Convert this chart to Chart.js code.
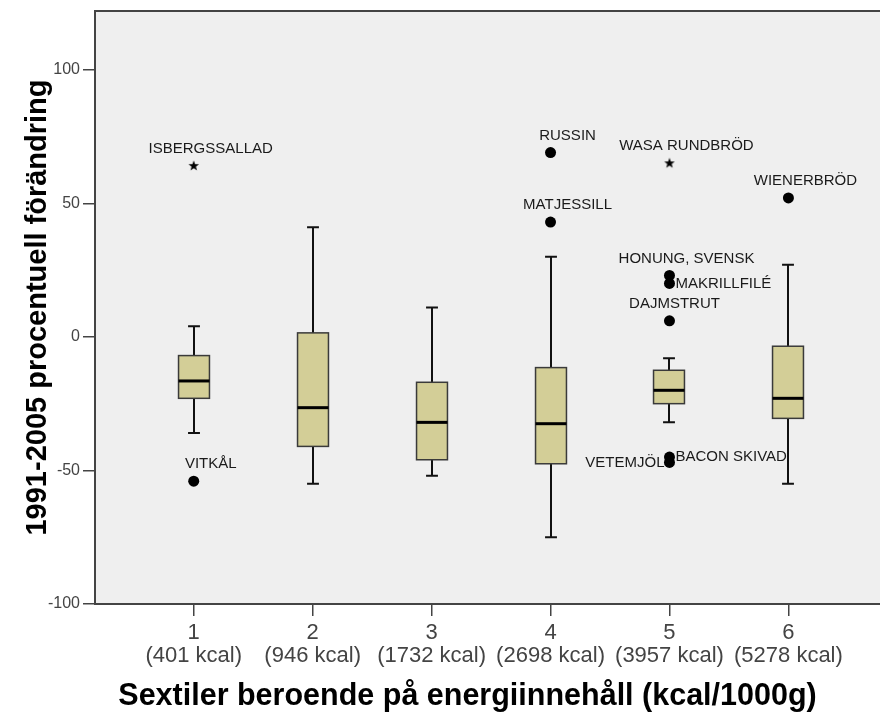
<!DOCTYPE html>
<html>
<head>
<meta charset="utf-8">
<script src="https://cdn.jsdelivr.net/npm/chart.js@4/dist/chart.umd.min.js"></script>
<style>
  html, body { margin: 0; padding: 0; background: #ffffff; }
  #wrap { width: 880px; height: 715px; }
</style>
</head>
<body>
<div id="wrap"><canvas id="chart" width="880" height="715"></canvas></div>
<script>
// Sextile groups and their mean energy content
const categories = ['1', '2', '3', '4', '5', '6'];
const kcalLabels = ['(401 kcal)', '(946 kcal)', '(1732 kcal)', '(2698 kcal)', '(3957 kcal)', '(5278 kcal)'];

// Box plot summary per group (percent change 1991-2005)
const whiskerLow  = [-36, -55, -52, -75, -32, -55];
const q1          = [-23, -41, -46, -47.5, -25, -30.5];
const median      = [-16.5, -26.5, -32, -32.5, -20, -23];
const q3          = [-7, 1.5, -17, -11.5, -12.5, -3.5];
const whiskerHigh = [4, 41, 11, 30, -8, 27];

// Individual outliers: name, group, value, extreme flag
const outlierNames  = ['ISBERGSSALLAD', 'VITKÅL', 'RUSSIN', 'MATJESSILL', 'WASA RUNDBRÖD',
                       'HONUNG, SVENSK', 'MAKRILLFILÉ', 'DAJMSTRUT', 'BACON SKIVAD', 'VETEMJÖL', 'WIENERBRÖD'];
const outlierGroup  = [1, 1, 4, 4, 5, 5, 5, 5, 5, 5, 6];
const outlierValue  = [64, -54, 69, 43, 65, 23, 20, 6, -45, -47, 52];
const outlierExtreme = [true, false, false, false, true, false, false, false, false, false, false];

// Y axis tick values
const yTicks = [-100, -50, 0, 50, 100];

// where each outlier's name sits relative to its marker
const labelSide = ['top', 'top', 'top', 'top', 'top', 'top', 'right', 'topNear', 'right', 'left', 'top'];

const X_TITLE = 'Sextiler beroende på energiinnehåll (kcal/1000g)';
const FONT = "'Liberation Sans', Arial, Helvetica, sans-serif";
Chart.defaults.font.family = FONT;

// filled five-point star used for extreme values
function makeStar(size) {
  const c = document.createElement('canvas');
  c.width = size; c.height = size;
  const g = c.getContext('2d');
  const cx = size / 2, cy = size / 2, ro = size / 2 - 0.5, ri = ro * 0.42;
  g.beginPath();
  for (let k = 0; k < 10; k++) {
    const r = k % 2 === 0 ? ro : ri;
    const a = -Math.PI / 2 + k * Math.PI / 5;
    const px = cx + r * Math.cos(a), py = cy + r * Math.sin(a);
    if (k === 0) g.moveTo(px, py); else g.lineTo(px, py);
  }
  g.closePath();
  g.fillStyle = '#000';
  g.fill();
  return c;
}
const starImg = makeStar(12);

const circlePts = [], starPts = [];
outlierNames.forEach((n, i) => {
  const p = { x: outlierGroup[i], y: outlierValue[i], name: n, side: labelSide[i] };
  (outlierExtreme[i] ? starPts : circlePts).push(p);
});

// plot background and frame
const plotFrame = {
  id: 'plotFrame',
  beforeDraw(chart) {
    const { ctx, chartArea: a } = chart;
    ctx.save();
    ctx.fillStyle = '#efefef';
    ctx.fillRect(a.left, a.top, a.right - a.left, a.bottom - a.top);
    ctx.strokeStyle = '#444';
    ctx.lineWidth = 2;
    ctx.beginPath();
    ctx.moveTo(a.left, a.top);
    ctx.lineTo(a.right, a.top);
    ctx.stroke();
    ctx.restore();
  }
};

// horizontal axis caption, set slightly left of the plot centre
const xCaption = {
  id: 'xCaption',
  afterDraw(chart) {
    const { ctx, chartArea: a } = chart;
    ctx.save();
    ctx.font = 'bold 30.5px ' + FONT;
    ctx.fillStyle = '#000';
    ctx.textAlign = 'center';
    ctx.textBaseline = 'middle';
    ctx.fillText(X_TITLE, (a.left + a.right) / 2 - 20, chart.height - 18);
    ctx.restore();
  }
};

// boxes, medians and whiskers drawn through the chart scales
const boxPlot = {
  id: 'boxPlot',
  beforeDatasetsDraw(chart) {
    const { ctx } = chart;
    const xs = chart.scales.x, ys = chart.scales.y;
    const step = xs.getPixelForValue(2) - xs.getPixelForValue(1);
    const half = step * 0.13;
    const cap = step * 0.05;
    ctx.save();
    categories.forEach((c, i) => {
      const cx = Math.round(xs.getPixelForValue(i + 1));
      const yLo = ys.getPixelForValue(whiskerLow[i]);
      const yHi = ys.getPixelForValue(whiskerHigh[i]);
      const yQ1 = ys.getPixelForValue(q1[i]);
      const yQ3 = ys.getPixelForValue(q3[i]);
      const yMd = ys.getPixelForValue(median[i]);
      // whiskers
      ctx.strokeStyle = '#111';
      ctx.lineWidth = 2;
      ctx.beginPath();
      ctx.moveTo(cx, yHi); ctx.lineTo(cx, yQ3);
      ctx.moveTo(cx, yQ1); ctx.lineTo(cx, yLo);
      ctx.moveTo(cx - cap, yHi); ctx.lineTo(cx + cap, yHi);
      ctx.moveTo(cx - cap, yLo); ctx.lineTo(cx + cap, yLo);
      ctx.stroke();
      // box
      ctx.fillStyle = '#d3ce97';
      ctx.fillRect(cx - half, yQ3, half * 2, yQ1 - yQ3);
      ctx.strokeStyle = '#3a3a3a';
      ctx.lineWidth = 1.5;
      ctx.strokeRect(cx - half, yQ3, half * 2, yQ1 - yQ3);
      // median
      ctx.strokeStyle = '#000';
      ctx.lineWidth = 3;
      ctx.beginPath();
      ctx.moveTo(cx - half, yMd); ctx.lineTo(cx + half, yMd);
      ctx.stroke();
    });
    ctx.restore();
  }
};

// outlier names
const pointNames = {
  id: 'pointNames',
  afterDatasetsDraw(chart) {
    const { ctx } = chart;
    const xs = chart.scales.x, ys = chart.scales.y;
    ctx.save();
    ctx.font = '15px ' + FONT;
    ctx.fillStyle = '#1a1a1a';
    ctx.textBaseline = 'middle';
    circlePts.concat(starPts).forEach(p => {
      const px = xs.getPixelForValue(p.x), py = ys.getPixelForValue(p.y);
      if (p.side === 'top') {
        ctx.textAlign = 'center';
        ctx.fillText(p.name, px + 17, py - 17);
      } else if (p.side === 'topNear') {
        ctx.textAlign = 'center';
        ctx.fillText(p.name, px + 5, py - 17);
      } else if (p.side === 'right') {
        ctx.textAlign = 'left';
        ctx.fillText(p.name, px + 6, py);
      } else {
        ctx.textAlign = 'right';
        ctx.fillText(p.name, px - 5, py);
      }
    });
    ctx.restore();
  }
};

new Chart(document.getElementById('chart'), {
  type: 'scatter',
  data: {
    datasets: [
      {
        label: 'Avvikande',
        data: circlePts,
        pointStyle: 'circle',
        pointRadius: 5.5,
        pointHoverRadius: 5.5,
        backgroundColor: '#000',
        borderColor: '#000',
        borderWidth: 0
      },
      {
        label: 'Extrema',
        data: starPts,
        pointStyle: starImg,
        pointRadius: 6,
        backgroundColor: '#000',
        borderColor: '#000'
      }
    ]
  },
  options: {
    responsive: false,
    animation: false,
    events: [],
    layout: { autoPadding: false, padding: { top: 11, right: 0, left: 0, bottom: 0 } },
    plugins: {
      legend: { display: false },
      tooltip: { enabled: false }
    },
    scales: {
      x: {
        type: 'linear',
        min: 0.17,
        max: 6.77,
        afterBuildTicks(scale) { scale.ticks = categories.map((c, i) => ({ value: i + 1 })); },
        afterFit(scale) { scale.height = 111; scale.paddingLeft = 0; scale.paddingRight = 0; },
        ticks: {
          autoSkip: false,
          maxRotation: 0,
          color: '#444',
          padding: 5,
          font: { size: 22, lineHeight: 1.05 },
          callback: (v, idx) => [categories[idx], kcalLabels[idx]]
        },
        grid: { drawOnChartArea: false, drawTicks: true, tickLength: 12, color: '#444', lineWidth: 1.5 },
        border: { display: true, color: '#444', width: 2 },
        title: { display: false, text: X_TITLE }
      },
      y: {
        type: 'linear',
        min: -100,
        max: 122,
        afterBuildTicks(scale) { scale.ticks = yTicks.map(v => ({ value: v })); },
        afterFit(scale) { scale.width = 95; scale.paddingTop = 0; scale.paddingBottom = 0; },
        ticks: {
          color: '#444',
          padding: 3,
          font: { size: 16 },
          callback: v => String(v)
        },
        grid: { drawOnChartArea: false, drawTicks: true, tickLength: 12, color: '#444', lineWidth: 1.5 },
        border: { display: true, color: '#444', width: 2 },
        title: {
          display: true,
          text: '1991-2005 procentuell förändring',
          color: '#000',
          font: { size: 29, weight: 'bold' },
          padding: { top: 21, bottom: 0 }
        }
      }
    }
  },
  plugins: [plotFrame, boxPlot, pointNames, xCaption]
});
</script>
</body>
</html>
